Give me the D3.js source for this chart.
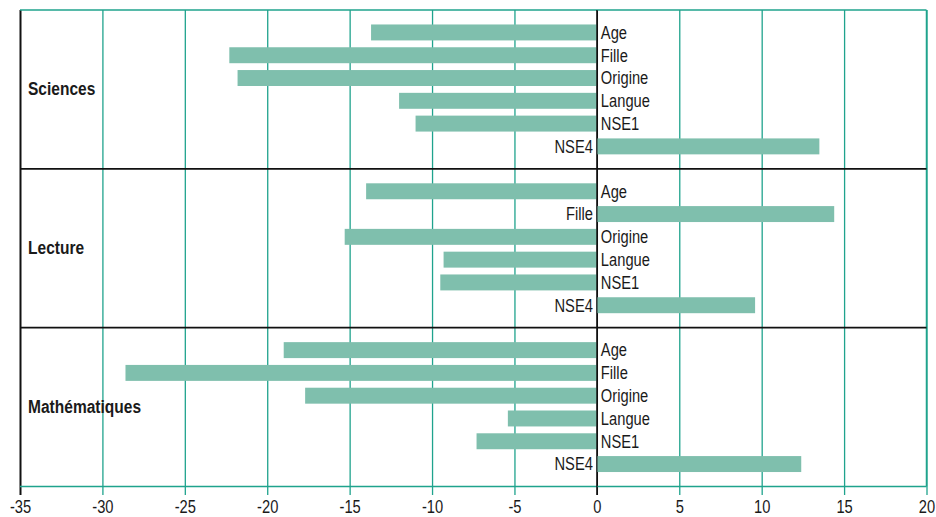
<!DOCTYPE html>
<html>
<head>
<meta charset="utf-8">
<script src="https://cdn.jsdelivr.net/npm/d3@7"></script>
<style>
  html, body { margin: 0; padding: 0; background: #fff; }
  svg { display: block; }
  text { font-family: "Liberation Sans", Arial, sans-serif; fill: #1a1a1a; }
</style>
</head>
<body>
<svg id="chart" width="936" height="517"></svg>
<script>
// Subjects (panels, top to bottom) and the variables shown in each panel
const subjects = ["Sciences", "Lecture", "Mathématiques"];
const variables = ["Age", "Fille", "Origine", "Langue", "NSE1", "NSE4"];

// Effect of each variable, per subject (same order as `variables`)
const sciences = [-13.7, -22.3, -21.8, -12.0, -11.0, 13.5];
const lecture = [-14.0, 14.4, -15.3, -9.3, -9.5, 9.6];
const mathematiques = [-19.0, -28.6, -17.7, -5.4, -7.3, 12.4];

const xTicks = [-35, -30, -25, -20, -15, -10, -5, 0, 5, 10, 15, 20];

const teal = "#1fa38d";
const barColor = "#7fbfad";
const narrow = 0.84; // horizontal squeeze for a condensed look

const svg = d3.select("#chart");
const plotLeft = 20, plotRight = 926.5, plotTop = 10, plotBottom = 486.5, tickEnd = 495;

const x = d3.scaleLinear().domain([-35, 20]).range([plotLeft, plotRight]);
const ySubject = d3.scaleBand().domain(subjects).range([plotTop, plotBottom]);
const yVar = d3.scaleBand().domain(variables)
  .range([0, ySubject.bandwidth()])
  .paddingInner(0.3).paddingOuter(0.635);

const rows = [];
[sciences, lecture, mathematiques].forEach((vals, si) => {
  vals.forEach((v, vi) => rows.push({ subject: subjects[si], variable: variables[vi], value: v }));
});

// Vertical grid + tick labels
const axis = d3.axisBottom(x).tickValues(xTicks).tickSize(-(tickEnd - plotTop))
  .tickFormat(d => String(d));
const gAxis = svg.append("g").attr("transform", `translate(0,${tickEnd})`).call(axis);
gAxis.select(".domain").remove();
gAxis.selectAll(".tick line")
  .attr("stroke", d => (d === -35 || d === 0) ? "#111" : teal)
  .attr("stroke-width", d => d === -35 ? 2 : 1.3);
gAxis.selectAll(".tick text")
  .attr("y", null).attr("dy", null)
  .attr("transform", `translate(0,18) scale(${narrow},1)`)
  .style("font-size", "17.5px").attr("fill", "#1a1a1a");

// Frame: top, bottom and right edges in teal
svg.append("line").attr("x1", plotLeft).attr("x2", plotRight).attr("y1", plotTop).attr("y2", plotTop)
  .attr("stroke", teal).attr("stroke-width", 1.5);
svg.append("line").attr("x1", plotLeft).attr("x2", plotRight).attr("y1", plotBottom).attr("y2", plotBottom)
  .attr("stroke", teal).attr("stroke-width", 1.5);
svg.append("line").attr("x1", plotRight).attr("x2", plotRight).attr("y1", plotTop).attr("y2", plotBottom)
  .attr("stroke", teal).attr("stroke-width", 1.5);

// Panel separators
svg.selectAll("line.sep").data(subjects.slice(1)).enter().append("line")
  .attr("class", "sep")
  .attr("x1", plotLeft).attr("x2", plotRight)
  .attr("y1", d => ySubject(d)).attr("y2", d => ySubject(d))
  .attr("stroke", "#111").attr("stroke-width", 1.8);

// Bars
svg.selectAll("rect.bar").data(rows).enter().append("rect")
  .attr("class", "bar")
  .attr("x", d => x(Math.min(0, d.value)))
  .attr("width", d => Math.abs(x(d.value) - x(0)))
  .attr("y", d => ySubject(d.subject) + yVar(d.variable))
  .attr("height", yVar.bandwidth())
  .attr("fill", barColor);

// Zero line drawn over the bars
svg.append("line").attr("x1", x(0)).attr("x2", x(0)).attr("y1", plotTop).attr("y2", tickEnd)
  .attr("stroke", "#111").attr("stroke-width", 1.2);

// Variable labels next to the zero line, on the side opposite the bar
svg.selectAll("text.var").data(rows).enter().append("text")
  .attr("class", "var")
  .attr("transform", d => {
    const tx = d.value < 0 ? x(0) + 4 : x(0) - 4;
    const ty = ySubject(d.subject) + yVar(d.variable) + yVar.bandwidth() / 2;
    return `translate(${tx},${ty}) scale(${narrow},1)`;
  })
  .attr("dy", "0.36em")
  .attr("text-anchor", d => d.value < 0 ? "start" : "end")
  .style("font-size", "17.5px")
  .text(d => d.variable);

// Panel titles
svg.selectAll("text.subject").data(subjects).enter().append("text")
  .attr("class", "subject")
  .attr("transform", d => `translate(28,${ySubject(d) + ySubject.bandwidth() / 2}) scale(${narrow},1)`)
  .attr("dy", "0.3em")
  .style("font-size", "18.5px").style("font-weight", "bold")
  .text(d => d);
</script>
</body>
</html>
